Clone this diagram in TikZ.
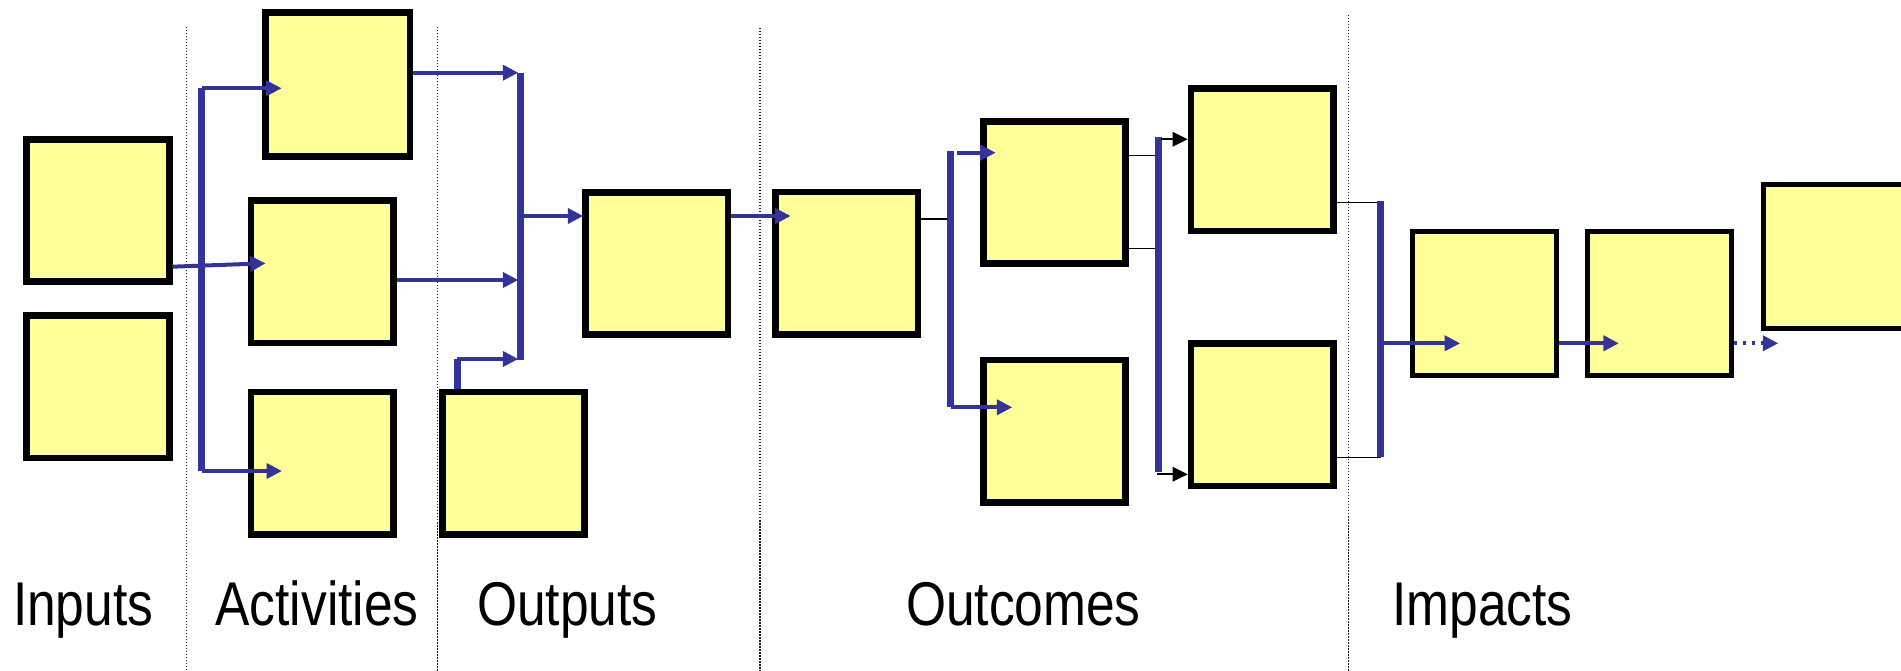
\documentclass[tikz,border=0pt]{standalone}
\usepackage{fontspec}
\setmainfont{Liberation Sans}
\usetikzlibrary{arrows.meta,calc}
\definecolor{boxyellow}{HTML}{FFFF99}
\definecolor{linkblue}{HTML}{333399}
\tikzset{
  box/.style={draw=black, fill=boxyellow, line width=2.68pt, inner sep=0pt,
    minimum width=56.92pt, minimum height=56.92pt},
  impbox/.style={box, line width=2pt, minimum width=57.6pt, minimum height=57.6pt},
  bar/.style={draw=linkblue, line width=2.6pt},
  flow/.style={draw=linkblue, line width=1.6pt, -{Triangle[length=6.2pt,width=6pt]}},
  dotflow/.style={flow, dash pattern=on 1.4pt off 2.2pt},
  thinlink/.style={draw=black, line width=0.55pt},
  blackflow/.style={draw=black, line width=0.65pt, -{Triangle[length=6pt,width=5.8pt]}},
  divider/.style={draw=black!90, line width=0.6pt, dash pattern=on 0.6pt off 0.6pt},
  lbl/.style={font=\fontsize{20.6}{24}\selectfont, inner sep=0pt, anchor=base west}
}
\begin{document}
\begin{tikzpicture}[x=0.4pt,y=-0.4pt]
\useasboundingbox (0,0) rectangle (1901,671);
\clip (0,0) rectangle (1901,671);

% dividers
\draw[divider] (186.7,26.7) -- (186.7,671);
\draw[divider] (437.7,27) -- (437.7,671);
\draw[divider] (760,28) -- (760,671);
\draw[divider] (1348.5,15) -- (1348.5,671);

% boxes
\node[box] (in1) at (98,210.7) {};
\node[box] (in2) at (98,386.9) {};
\node[box, minimum width=57.7pt, minimum height=57.7pt] (act1) at (337.8,84.5) {};
\node[box] (act2) at (322.2,272) {};
\node[box] (act3) at (322.2,463.2) {};
\node[box] (outlow) at (513.5,463.2) {};
\node[box] (outmain) at (656.7,263.5) {};
\node[box] (oc1) at (846.7,263.3) {};
\node[box] (oc2) at (1054.5,192.5) {};
\node[box] (oc3) at (1054.5,431.2) {};
\node[box] (oc4) at (1262.2,159.9) {};
\node[box] (oc5) at (1262.2,414.9) {};
\node[impbox] (im1) at (1484.4,303.8) {};
\node[impbox] (im2) at (1659.2,303.8) {};
\node[impbox] (im3) at (1835,256.7) {};

% named junction points and arrow tips
\coordinate (tact2) at (265.7,263.3);
\coordinate (bus1top) at (201.7,88.3);
\coordinate (bus1bot) at (201.7,471);
\coordinate (tact1) at (281.7,88.3);
\coordinate (tact3) at (282,471);
\coordinate (bar2top) at (520.7,72.7);
\coordinate (bar2bot) at (520.7,360);
\coordinate (t2a) at (518.3,72.7);
\coordinate (t2b) at (518.3,280);
\coordinate (t2c) at (518.3,359);
\coordinate (bend) at (457.3,359);
\coordinate (bar2mid) at (520.7,216);
\coordinate (toutm) at (583.3,216);
\coordinate (toc1) at (790.7,216);
\coordinate (bar3mid) at (950.7,219);
\coordinate (bar3top) at (950.7,150.7);
\coordinate (bar3bot) at (950.7,406.7);
\coordinate (s3a) at (957.3,152.7);
\coordinate (toc2) at (995.7,152.7);
\coordinate (s3b) at (950.7,407.3);
\coordinate (toc3) at (1012.3,407.3);
\coordinate (bar4a) at (1155,155.3);
\coordinate (bar4b) at (1155,248.7);
\coordinate (bar4top) at (1158.3,136.7);
\coordinate (bar4bot) at (1158.3,471.7);
\coordinate (s4a) at (1161,139.3);
\coordinate (s4b) at (1157,474.3);
\coordinate (bar5a) at (1380.5,202.3);
\coordinate (bar5b) at (1380.5,457.3);
\coordinate (bar5top) at (1380.5,200.7);
\coordinate (bar5bot) at (1380.5,457.5);
\coordinate (bar5mid) at (1380.5,343.3);
\coordinate (tim1) at (1460.2,343.3);
\coordinate (tim2) at (1618.9,343.3);
\coordinate (tnext) at (1778.3,343.3);

% inputs -> activities
\draw[flow] (in1.east |- 0,266.7) -- (tact2);
\draw[bar] (bus1top) -- (bus1bot);
\draw[flow] (bus1top) -- (tact1);
\draw[flow] (bus1bot) -- (tact3);

% activities -> outputs
\draw[bar] (bar2top) -- (bar2bot);
\draw[flow] (act1.east |- t2a) -- (t2a);
\draw[flow] (act2.east |- t2b) -- (t2b);
\draw[bar] (outlow.north -| bend) -- (bend);
\draw[flow] (bend) -- (t2c);
\draw[flow] (bar2mid) -- (toutm);

% outputs -> outcomes
\draw[flow] (outmain.east |- toutm) -- (toc1);
\draw[thinlink] (oc1.east |- bar3mid) -- (bar3mid);
\draw[bar] (bar3top) -- (bar3bot);
\draw[flow] (s3a) -- (toc2);
\draw[flow] (s3b) -- (toc3);

\draw[thinlink] (oc2.east |- bar4a) -- (bar4a);
\draw[thinlink] (oc2.east |- bar4b) -- (bar4b);
\draw[bar] (bar4top) -- (bar4bot);
\draw[blackflow] (s4a) -- (oc4.west |- s4a);
\draw[blackflow] (s4b) -- (oc5.west |- s4b);

% outcomes -> impacts
\draw[thinlink] (oc4.east |- bar5a) -- (bar5a);
\draw[thinlink] (oc5.east |- bar5b) -- (bar5b);
\draw[bar] (bar5top) -- (bar5bot);
\draw[flow] (bar5mid) -- (tim1);
\draw[flow] (im1.east |- tim2) -- (tim2);
\draw[dotflow] (im2.east |- tnext) -- (tnext);

% labels
\node[lbl] (linputs) at (12.5,626) {\scalebox{1}[1.2]{Inputs}};
\node[lbl] (lact) at (215,626) {\scalebox{1}[1.2]{Activities}};
\node[lbl] (lout) at (476.5,626) {\scalebox{1}[1.2]{Outputs}};
\node[lbl] (loc) at (905.5,626) {\scalebox{1}[1.2]{Outcomes}};
\node[lbl] (limp) at (1391.7,626) {\scalebox{1}[1.2]{Impacts}};
\end{tikzpicture}
\end{document}
